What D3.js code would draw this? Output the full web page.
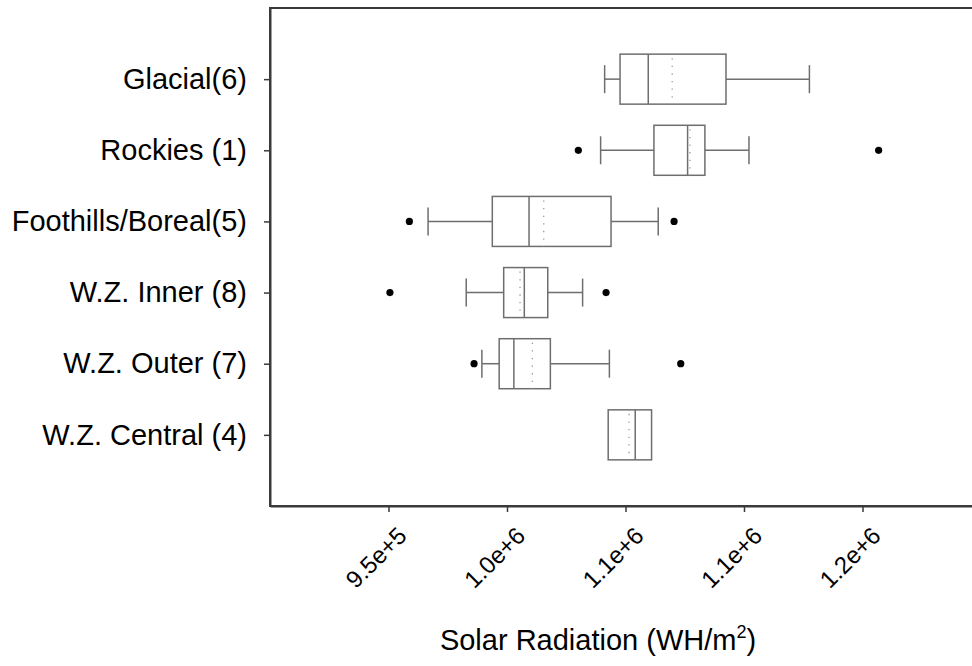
<!DOCTYPE html>
<html>
<head>
<meta charset="utf-8">
<script src="https://cdn.jsdelivr.net/npm/d3@7"></script>
<style>
  body { margin: 0; background: #fff; }
  svg { display: block; font-family: "Liberation Sans", Arial, sans-serif; }
</style>
</head>
<body>
<svg id="chart" width="972" height="666"></svg>
<script>
const categories = ["Glacial(6)", "Rockies (1)", "Foothills/Boreal(5)", "W.Z. Inner (8)", "W.Z. Outer (7)", "W.Z. Central (4)"];
const q1 = [1047700, 1062000, 993800, 998600, 996700, 1042700];
const medians = [1059600, 1076200, 1009300, 1007300, 1002900, 1054100];
const q3 = [1092400, 1083500, 1043900, 1017200, 1018300, 1061000];
const means = [1069700, 1077200, 1015500, 1005500, 1010700, 1051500];
const whiskerLow = [1041200, 1039500, 966700, 982800, 989400, null];
const whiskerHigh = [1127600, 1102100, 1063800, 1031900, 1043200, null];
const outliers = [[], [1030100, 1156800], [958800, 1070500], [950600, 1041800], [986100, 1073300], []];
const tickValues = [950000, 1000000, 1050000, 1100000, 1150000];
const tickLabels = ["9.5e+5", "1.0e+6", "1.1e+6", "1.1e+6", "1.2e+6"];

const LEFT = 270, RIGHT = 981, TOP = 8, BOTTOM = 506;
const BOX_H = 50, CAP_H = 28;
const LINE = "#6e6e6e";

const svg = d3.select("#chart");

const x = d3.scaleLinear().domain([900000, 1200000]).range([LEFT, RIGHT]);
const y = d3.scalePoint().domain(categories).range([TOP, BOTTOM]).padding(1);

// frame (right edge falls outside the picture)
svg.append("rect")
  .attr("x", LEFT).attr("y", TOP)
  .attr("width", RIGHT - LEFT).attr("height", BOTTOM - TOP)
  .attr("fill", "none").attr("stroke", "#3a3a3a").attr("stroke-width", 2);

// axes
const xAxis = svg.append("g")
  .attr("transform", "translate(0," + BOTTOM + ")")
  .call(d3.axisBottom(x).tickValues(tickValues).tickSize(6).tickSizeOuter(0)
    .tickFormat((d, i) => tickLabels[i]));
xAxis.select(".domain").attr("stroke", "#3a3a3a").attr("stroke-width", 2);
xAxis.selectAll(".tick line").attr("stroke", "#3a3a3a").attr("stroke-width", 1.5);
xAxis.selectAll(".tick text")
  .attr("x", 0).attr("y", 0).attr("dy", "0.72em")
  .attr("transform", "translate(7,19) rotate(-45)")
  .attr("text-anchor", "end")
  .attr("font-size", 24).attr("font-family", "Liberation Sans, Arial, sans-serif")
  .attr("fill", "#000");

const yAxis = svg.append("g")
  .attr("transform", "translate(" + LEFT + ",0)")
  .call(d3.axisLeft(y).tickSize(6).tickSizeOuter(0).tickPadding(17));
yAxis.select(".domain").attr("stroke", "#3a3a3a").attr("stroke-width", 2);
yAxis.selectAll(".tick line").attr("stroke", "#3a3a3a").attr("stroke-width", 1.5);
yAxis.selectAll(".tick text")
  .attr("font-size", 29).attr("font-family", "Liberation Sans, Arial, sans-serif")
  .attr("fill", "#000");

// boxes
const rows = svg.append("g").selectAll("g")
  .data(categories)
  .enter()
  .append("g")
  .attr("transform", d => "translate(0," + y(d) + ")");

rows.each(function(d, i) {
  const g = d3.select(this);
  if (whiskerLow[i] !== null) {
    g.append("line")
      .attr("x1", x(whiskerLow[i])).attr("x2", x(q1[i])).attr("y1", 0).attr("y2", 0)
      .attr("stroke", LINE).attr("stroke-width", 1.5);
    g.append("line")
      .attr("x1", x(q3[i])).attr("x2", x(whiskerHigh[i])).attr("y1", 0).attr("y2", 0)
      .attr("stroke", LINE).attr("stroke-width", 1.5);
    [whiskerLow[i], whiskerHigh[i]].forEach(function(v) {
      g.append("line")
        .attr("x1", x(v)).attr("x2", x(v)).attr("y1", -CAP_H / 2).attr("y2", CAP_H / 2)
        .attr("stroke", LINE).attr("stroke-width", 1.5);
    });
  }
  g.append("rect")
    .attr("x", x(q1[i])).attr("y", -BOX_H / 2)
    .attr("width", x(q3[i]) - x(q1[i])).attr("height", BOX_H)
    .attr("fill", "#fff").attr("stroke", LINE).attr("stroke-width", 1.5);
  g.append("line")
    .attr("x1", x(medians[i])).attr("x2", x(medians[i]))
    .attr("y1", -BOX_H / 2).attr("y2", BOX_H / 2)
    .attr("stroke", LINE).attr("stroke-width", 1.5);
  g.append("line")
    .attr("x1", x(means[i])).attr("x2", x(means[i]))
    .attr("y1", -BOX_H / 2 + 4).attr("y2", BOX_H / 2)
    .attr("stroke", "#9a9a9a").attr("stroke-width", 1.3)
    .attr("stroke-dasharray", "1.3,6.3");
  g.selectAll("circle.out")
    .data(outliers[i])
    .enter()
    .append("circle")
    .attr("class", "out")
    .attr("cx", v => x(v)).attr("cy", 0).attr("r", 3.6)
    .attr("fill", "#000");
});

// axis title
const title = svg.append("text")
  .attr("x", 598).attr("y", 650)
  .attr("text-anchor", "middle")
  .attr("font-size", 29)
  .attr("fill", "#000")
  .text("Solar Radiation (WH/m");
title.append("tspan").attr("font-size", 18).attr("dy", -12).text("2");
title.append("tspan").attr("dy", 12).text(")");
</script>
</body>
</html>
